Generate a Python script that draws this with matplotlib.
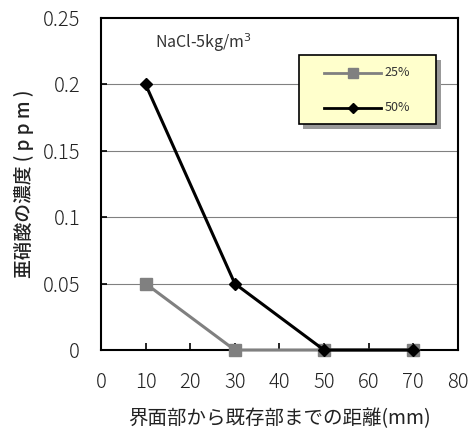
import matplotlib.pyplot as plt
from matplotlib.patches import Rectangle

plt.rcParams['font.family'] = ['Noto Sans CJK JP', 'DejaVu Sans']

distance = [10, 30, 50, 70]
conc_25 = [0.05, 0, 0, 0]
conc_50 = [0.2, 0.05, 0, 0]
xticks = [0, 10, 20, 30, 40, 50, 60, 70, 80]
yticks = [0, 0.05, 0.1, 0.15, 0.2, 0.25]
ytick_labels = ['0', '0.05', '0.1', '0.15', '0.2', '0.25']

fig = plt.figure(figsize=(4.72, 4.4), dpi=100)
ax = fig.add_axes([0.214, 0.2045, 0.756, 0.7545])

for y in yticks[1:-1]:
    ax.axhline(y, color='#808080', lw=0.8, zorder=0)

ax.plot(distance, conc_25, color='#808080', lw=2.2, marker='s', ms=8,
        label='25%', zorder=3, clip_on=False)
ax.plot(distance, conc_50, color='black', lw=2.2, marker='D', ms=6.5,
        label='50%', zorder=4, clip_on=False)

ax.set_xlim(0, 80)
ax.set_ylim(0, 0.25)
ax.set_xticks(xticks)
ax.set_yticks(yticks)
ax.set_yticklabels(ytick_labels)
ax.tick_params(axis='x', direction='in', length=5, width=1.2, pad=16)
ax.tick_params(axis='y', direction='in', length=4, width=1.2, pad=15)
for lab in ax.get_xticklabels() + ax.get_yticklabels():
    lab.set_fontsize(14.5)
    lab.set_fontweight('light')
    lab.set_color('#222222')
for s in ax.spines.values():
    s.set_linewidth(1.5)

ax.set_xlabel('界面部から既存部までの距離(mm)', fontsize=14, labelpad=11,
              color='#222222')
ax.set_ylabel('亜硝酸の濃度 ( p p m )', fontsize=13.5, labelpad=6,
              fontweight='medium', color='#222222')

ax.text(0.152, 0.925, 'NaCl-5kg/m$^3$', transform=ax.transAxes, fontsize=11.5,
        color='#333333', va='center')

# legend box with drop shadow
lx, ly, lw_, lh = 0.555, 0.68, 0.385, 0.21
ax.add_patch(Rectangle((lx + 0.012, ly - 0.015), lw_, lh, transform=ax.transAxes,
                       facecolor='#999999', edgecolor='none', zorder=5))
ax.add_patch(Rectangle((lx, ly), lw_, lh, transform=ax.transAxes,
                       facecolor='#FFFFCC', edgecolor='black', lw=1.2, zorder=6))
for yy, col, mk, ms, lab in [(ly + 0.155, '#808080', 's', 6.5, '25%'),
                             (ly + 0.05, 'black', 'D', 5, '50%')]:
    ax.plot([lx + 0.07, lx + 0.23], [yy, yy], transform=ax.transAxes,
            color=col, lw=2, zorder=7)
    ax.plot([lx + 0.15], [yy], transform=ax.transAxes, color=col,
            marker=mk, ms=ms, zorder=7)
    ax.text(lx + 0.24, yy, lab, transform=ax.transAxes, fontsize=9,
            va='center', color='#333333', zorder=7)

fig.savefig('out.png', dpi=100)
